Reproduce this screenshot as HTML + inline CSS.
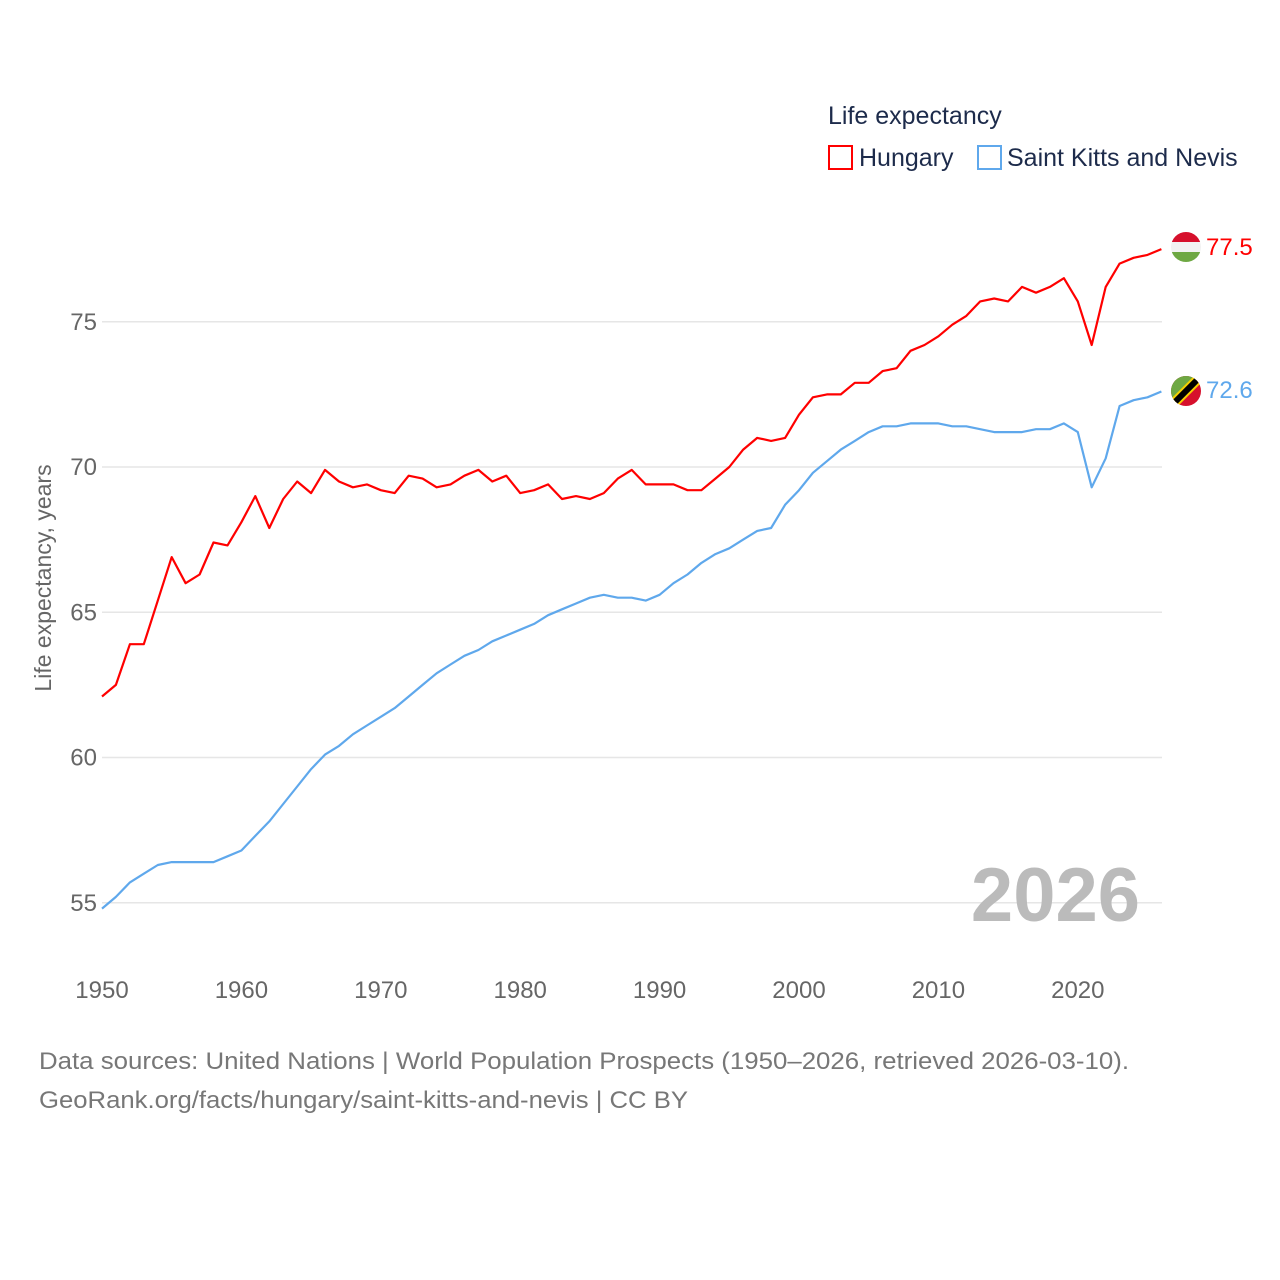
<!DOCTYPE html>
<html><head><meta charset="utf-8"><style>
body{margin:0;background:#fff;}
svg{display:block;font-family:"Liberation Sans",sans-serif;}
</style></head><body>
<svg width="1280" height="1280" viewBox="0 0 1280 1280">
<g id="grid"></g>
<g id="xticks"></g>
<g id="series"></g>
<text x="0" y="0" transform="translate(51,578) rotate(-90)" text-anchor="middle" font-size="23" fill="#666">Life expectancy, years</text>
<text x="1140" y="921" text-anchor="end" font-size="76" font-weight="bold" fill="#bbb">2026</text>
<text x="828" y="124" font-size="25" fill="#1d2b4b">Life expectancy</text>
<g>
<rect x="829" y="146" width="23" height="23" fill="none" stroke="#f00" stroke-width="2"/>
<text x="859" y="166" font-size="25" fill="#1d2b4b">Hungary</text></g>
<g>
<rect x="978" y="146" width="23" height="23" fill="none" stroke="#5fa8ec" stroke-width="2"/>
<text x="1007" y="166" font-size="25" fill="#1d2b4b">Saint Kitts and Nevis</text></g>
<defs><clipPath id="c1"><circle cx="1186" cy="247" r="15"/></clipPath><clipPath id="c2"><circle cx="1186" cy="391" r="15"/></clipPath></defs>
<g clip-path="url(#c1)">
<rect x="1170" y="231" width="32" height="11" fill="#d6102c"/><rect x="1170" y="242" width="32" height="10" fill="#f2f2f2"/><rect x="1170" y="252" width="32" height="11" fill="#6ea843"/></g>
<g clip-path="url(#c2)">
<rect x="1170" y="375" width="32" height="32" fill="#d6102c"/><polygon points="1170,375 1202,375 1170,407" fill="#6ea843"/>
<line x1="1170" y1="407" x2="1202" y2="375" stroke="#f5d000" stroke-width="10"/><line x1="1170" y1="407" x2="1202" y2="375" stroke="#000" stroke-width="6"/></g>
<text x="1206" y="255" font-size="24" fill="#f00">77.5</text>
<text x="1206" y="398" font-size="24" fill="#5fa8ec">72.6</text>
<text x="39" y="1069" font-size="24" fill="#777" textLength="1090" lengthAdjust="spacingAndGlyphs">Data sources: United Nations | World Population Prospects (1950–2026, retrieved 2026-03-10).</text>
<text x="39" y="1108" font-size="24" fill="#777" textLength="649" lengthAdjust="spacingAndGlyphs">GeoRank.org/facts/hungary/saint-kitts-and-nevis | CC BY</text>
</svg>
<script>
const startYear = 1950;
const hungary = [62.1,62.5,63.9,63.9,65.4,66.9,66.0,66.3,67.4,67.3,68.1,69.0,67.9,68.9,69.5,69.1,69.9,69.5,69.3,69.4,69.2,69.1,69.7,69.6,69.3,69.4,69.7,69.9,69.5,69.7,69.1,69.2,69.4,68.9,69.0,68.9,69.1,69.6,69.9,69.4,69.4,69.4,69.2,69.2,69.6,70.0,70.6,71.0,70.9,71.0,71.8,72.4,72.5,72.5,72.9,72.9,73.3,73.4,74.0,74.2,74.5,74.9,75.2,75.7,75.8,75.7,76.2,76.0,76.2,76.5,75.7,74.2,76.2,77.0,77.2,77.3,77.5];
const saintKitts = [54.8,55.2,55.7,56.0,56.3,56.4,56.4,56.4,56.4,56.6,56.8,57.3,57.8,58.4,59.0,59.6,60.1,60.4,60.8,61.1,61.4,61.7,62.1,62.5,62.9,63.2,63.5,63.7,64.0,64.2,64.4,64.6,64.9,65.1,65.3,65.5,65.6,65.5,65.5,65.4,65.6,66.0,66.3,66.7,67.0,67.2,67.5,67.8,67.9,68.7,69.2,69.8,70.2,70.6,70.9,71.2,71.4,71.4,71.5,71.5,71.5,71.4,71.4,71.3,71.2,71.2,71.2,71.3,71.3,71.5,71.2,69.3,70.3,72.1,72.3,72.4,72.6];
const yTicks = [55,60,65,70,75];
const xTicks = [1950,1960,1970,1980,1990,2000,2010,2020];
const NS="http://www.w3.org/2000/svg";
function xs(yr){return 102+(yr-1950)*13.94;}
function ys(v){return 467-(v-70)*29.05;}
const grid=document.getElementById('grid');
yTicks.forEach(t=>{
 const l=document.createElementNS(NS,'line');
 l.setAttribute('x1',102);l.setAttribute('x2',1162);l.setAttribute('y1',ys(t));l.setAttribute('y2',ys(t));
 l.setAttribute('stroke','#e6e6e6');l.setAttribute('stroke-width','1.5');
 
 
 grid.appendChild(l);
 const tx=document.createElementNS(NS,'text');
 tx.setAttribute('x',97);tx.setAttribute('y',ys(t)+8);tx.setAttribute('text-anchor','end');
 tx.setAttribute('font-size','24');tx.setAttribute('fill','#666');tx.textContent=t;
 
 
 grid.appendChild(tx);
});
const xg=document.getElementById('xticks');
xTicks.forEach(t=>{
 const tx=document.createElementNS(NS,'text');
 tx.setAttribute('x',xs(t));tx.setAttribute('y',998);tx.setAttribute('text-anchor','middle');
 tx.setAttribute('font-size','24');tx.setAttribute('fill','#666');tx.textContent=t;
 
 
 xg.appendChild(tx);
});
const sg=document.getElementById('series');
function line(vals,color,name){
 const p=document.createElementNS(NS,'polyline');
 p.setAttribute('points',vals.map((v,i)=>xs(startYear+i).toFixed(1)+','+ys(v).toFixed(1)).join(' '));
 p.setAttribute('fill','none');p.setAttribute('stroke',color);p.setAttribute('stroke-width','2.2');
 p.setAttribute('stroke-linejoin','round');
 
 
 sg.appendChild(p);
}
line(saintKitts,'#5fa8ec','saint-kitts-line');
line(hungary,'#f00','hungary-line');
</script>
</body></html>
